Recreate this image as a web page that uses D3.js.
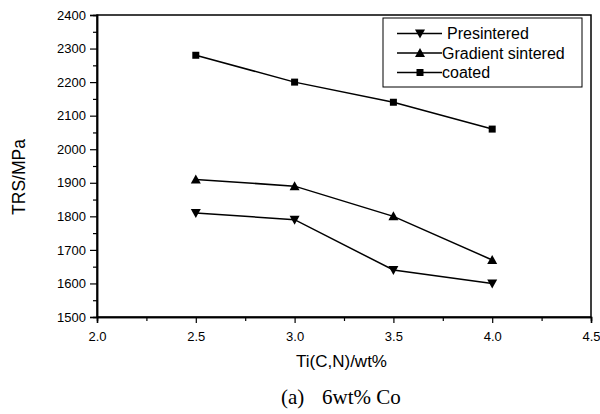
<!DOCTYPE html>
<html><head><meta charset="utf-8">
<script src="https://cdn.jsdelivr.net/npm/d3@7"></script>
<style>body{margin:0;background:#fff}svg{display:block}</style>
</head><body>
<svg id="c" width="600" height="414"></svg>
<script>
const xValues = [2.5, 3.0, 3.5, 4.0];
const presintered = [1810, 1790, 1640, 1600];
const gradient = [1910, 1890, 1800, 1670];
const coated = [2280, 2200, 2140, 2060];
const seriesNames = ["Presintered", "Gradient sintered", "coated"];
const seriesSymbols = ["down", "up", "square"];
const xTicks = [2.0, 2.5, 3.0, 3.5, 4.0, 4.5];
const yTicks = [1500, 1600, 1700, 1800, 1900, 2000, 2100, 2200, 2300, 2400];

const svg = d3.select("#c");
const L = 97, R = 591, T = 15, B = 317;
const x = d3.scaleLinear().domain([2.0, 4.5]).range([L, R]);
const y = d3.scaleLinear().domain([1500, 2400]).range([B, T]);
const font = "Arial, 'Liberation Sans', sans-serif";
const serif = "'Liberation Serif', 'Times New Roman', serif";

// frame
svg.append("rect").attr("x", L).attr("y", T).attr("width", R - L).attr("height", B - T)
  .attr("fill", "none").attr("stroke", "#000").attr("stroke-width", 1.5);

// axes
const xAxis = d3.axisBottom(x).tickValues(xTicks).tickFormat(d3.format(".1f")).tickSize(6).tickPadding(9);
svg.append("g").attr("transform", `translate(0,${B})`).call(xAxis);
const xMinor = d3.axisBottom(x).tickValues(d3.range(2.25, 4.5, 0.5)).tickFormat("").tickSize(4);
svg.append("g").attr("transform", `translate(0,${B})`).call(xMinor);
const yAxis = d3.axisLeft(y).tickValues(yTicks).tickFormat(d3.format("d")).tickSize(7).tickPadding(4);
svg.append("g").attr("transform", `translate(${L},0)`).call(yAxis);
const yMinor = d3.axisLeft(y).tickValues(d3.range(1550, 2400, 100)).tickFormat("").tickSize(4);
svg.append("g").attr("transform", `translate(${L},0)`).call(yMinor);
svg.selectAll(".domain").attr("stroke", "#000").attr("stroke-width", 1.5);
svg.selectAll(".tick line").attr("stroke", "#000").attr("stroke-width", 1.2);
svg.selectAll(".tick text").attr("font-family", font).attr("font-size", 13).attr("fill", "#000");

// titles
svg.append("text").attr("x", 341.5).attr("y", 367).attr("text-anchor", "middle")
  .attr("font-family", font).attr("font-size", 17).text("Ti(C,N)/wt%");
svg.append("text").attr("transform", `translate(25,177) rotate(-90)`).attr("text-anchor", "middle")
  .attr("font-family", font).attr("font-size", 17.5).text("TRS/MPa");
svg.append("text").attr("x", 281).attr("y", 404)
  .attr("font-family", serif).attr("font-size", 21).text("(a)");
svg.append("text").attr("x", 322).attr("y", 404)
  .attr("font-family", serif).attr("font-size", 21).text("6wt% Co");

// symbols
function sym(g, type, cx, cy) {
  if (type === "square") {
    g.append("rect").attr("x", cx - 3.5).attr("y", cy - 3.5).attr("width", 7).attr("height", 7).attr("fill", "#000");
  } else if (type === "up") {
    g.append("path").attr("d", `M${cx},${cy - 5}L${cx + 5},${cy + 4}L${cx - 5},${cy + 4}Z`).attr("fill", "#000");
  } else {
    g.append("path").attr("d", `M${cx},${cy + 5}L${cx + 5},${cy - 4}L${cx - 5},${cy - 4}Z`).attr("fill", "#000");
  }
}

const allSeries = [presintered, gradient, coated];
const line = d3.line().x((d, i) => x(xValues[i])).y(d => y(d));
allSeries.forEach((s, k) => {
  const g = svg.append("g");
  g.append("path").attr("d", line(s)).attr("fill", "none").attr("stroke", "#000").attr("stroke-width", 1.5);
  s.forEach((v, i) => sym(g, seriesSymbols[k], x(xValues[i]), y(v)));
});

// legend
const lg = svg.append("g");
lg.append("rect").attr("x", 383).attr("y", 18).attr("width", 199).attr("height", 69)
  .attr("fill", "#fff").attr("stroke", "#000").attr("stroke-width", 1);
const rowsY = [33.5, 53, 72.5];
seriesNames.forEach((n, k) => {
  const yy = rowsY[k];
  lg.append("line").attr("x1", 397).attr("x2", 442).attr("y1", yy).attr("y2", yy).attr("stroke", "#000").attr("stroke-width", 1.5);
  sym(lg, seriesSymbols[k], 420, yy);
  lg.append("text").attr("x", k === 0 ? 447 : 442).attr("y", yy + 5.5).attr("font-family", font).attr("font-size", 16).text(n);
});
</script>
</body></html>
